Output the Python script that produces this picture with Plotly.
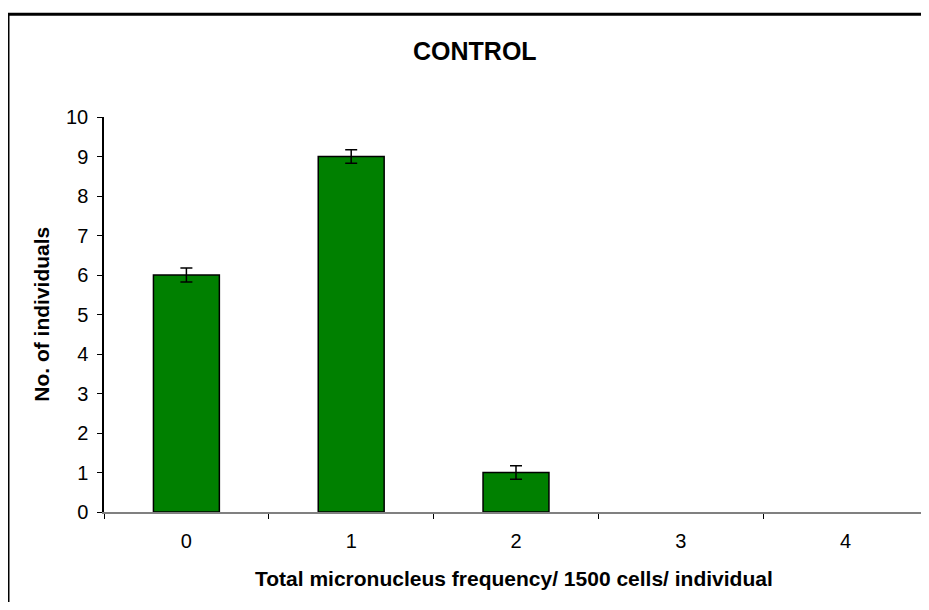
import plotly.graph_objects as go

categories = ["0", "1", "2", "3", "4"]
values = [6, 9, 1, 0, 0]
errors = [0.18, 0.17, 0.17, 0, 0]
y_ticks = list(range(0, 11))

# page body has an 8px margin; figure coordinates = reference - 8
OFF = 8
W, H = 921, 594
L, R = 104 - OFF, 1
T = 117 - OFF
B = H - (512.5 - OFF)
pw = W - L - R
ph = H - T - B

def px_x(px):
    return (px - OFF - L) / pw

def px_y(py):
    return (H - B - (py - OFF)) / ph

outline_w = [1.5 if v > 0 else 0 for v in values]
err_idx = [i for i, e in enumerate(errors) if e > 0]

fig = go.Figure()
fig.add_trace(go.Bar(
    x=categories, y=values,
    marker=dict(color="#008000", line=dict(color="#000000", width=outline_w)),
    showlegend=False, hoverinfo="x+y",
))
fig.add_trace(go.Scatter(
    x=[categories[i] for i in err_idx], y=[values[i] for i in err_idx],
    mode="markers", marker=dict(size=1, opacity=0),
    error_y=dict(type="data", array=[errors[i] for i in err_idx], visible=True,
                 color="#000000", thickness=1.5, width=6),
    showlegend=False, hoverinfo="skip",
))

fig.update_layout(
    width=W, height=H,
    margin=dict(l=L, r=R, t=T, b=B),
    paper_bgcolor="white", plot_bgcolor="white",
    bargap=0.6,
    font=dict(family="Liberation Sans, Arial, sans-serif", color="#000000"),
    xaxis=dict(
        type="category", range=[-0.5, 4.5], tickson="boundaries",
        ticks="outside", ticklen=5, tickcolor="#000000", tickwidth=1,
        showline=True, linecolor="#808080", linewidth=1.5,
        showgrid=False, zeroline=False,
        tickfont=dict(size=20), ticklabelstandoff=10,
    ),
    yaxis=dict(
        range=[0, 10], tickvals=y_ticks, ticks="outside", ticklen=5,
        tickcolor="#000000", tickwidth=1,
        showline=True, linecolor="#000000", linewidth=1.5,
        showgrid=False, zeroline=False,
        tickfont=dict(size=20), ticklabelstandoff=5,
    ),
    annotations=[
        dict(text="<b>CONTROL</b>", xref="paper", yref="paper",
             x=px_x(475), y=px_y(51), xanchor="center", yanchor="middle",
             showarrow=False, font=dict(size=25)),
        dict(text="<b>Total micronucleus frequency/ 1500 cells/ individual</b>",
             xref="paper", yref="paper", x=px_x(514), y=px_y(579),
             xanchor="center", yanchor="middle", showarrow=False,
             font=dict(size=21)),
        dict(text="<b>No. of individuals</b>", xref="paper", yref="paper",
             x=px_x(42), y=px_y(315), xanchor="center", yanchor="middle",
             textangle=-90, showarrow=False, font=dict(size=21)),
    ],
    shapes=[dict(type="rect", xref="paper", yref="paper",
                 x0=px_x(8), x1=px_x(960), y0=px_y(640), y1=px_y(14),
                 line=dict(color="#000000", width=3), fillcolor="rgba(0,0,0,0)",
                 layer="above")],
)

fig.write_html("out.html")
